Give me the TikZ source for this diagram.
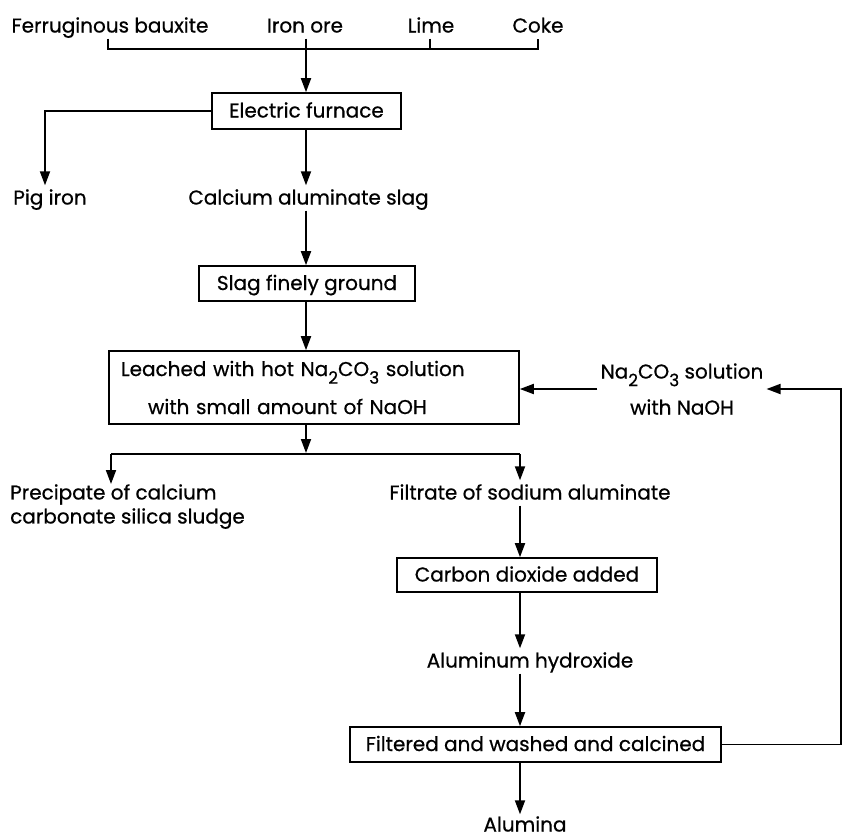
\documentclass[tikz,border=0pt]{standalone}
\usepackage{fontspec}
\setmainfont{Poppins}[FakeBold=0.6]
\usetikzlibrary{arrows.meta}
\newcommand{\sbsc}[1]{\raisebox{-0.7ex}{\fontsize{17}{17}\selectfont #1}}
\begin{document}
\begin{tikzpicture}[x=1pt,y=-1pt,
  every node/.style={font=\fontsize{20}{24}\selectfont},
  txt/.style={inner xsep=0pt, inner ysep=4pt, text height=15pt, text depth=2pt},
  box/.style={draw, line width=1.6pt, inner sep=0pt, text height=15pt, text depth=2pt},
  ln/.style={line width=1.8pt},
  arr/.style={ln, -{Triangle[length=14pt,width=10pt]}}]
\useasboundingbox (0,0) rectangle (844,839);
\fill[white] (0,0) rectangle (844,839);
% coordinates for axes
\coordinate (ax) at (306,0);
\coordinate (rx) at (520,0);
\coordinate (bl) at (108,49);
\coordinate (br) at (538,49);
\coordinate (lt) at (430,49);
\coordinate (sl) at (111,454);
\coordinate (sr) at (520,454);
\coordinate (px) at (45,0);
\coordinate (fbx) at (841,0);
% nodes
\node[txt] (fb) at (110,26) {Ferruginous bauxite};
\node[txt] (io) at (305,26) {Iron ore};
\node[txt] (lime) at (431,26) {Lime};
\node[txt] (coke) at (538,26) {Coke};
\node[box, minimum width=189pt, minimum height=36pt] (fur) at (306.5,111) {Electric furnace};
\node[txt] (pig) at (50,198) {Pig iron};
\node[txt] (cal) at (308.5,198) {Calcium aluminate slag};
\node[box, minimum width=216pt, minimum height=35pt] (slag) at (307,283.5) {Slag finely ground};
\node[draw, line width=1.6pt, inner xsep=12pt, inner ysep=0pt, text width=386pt, minimum height=73pt,
      align=left, font=\fontsize{20}{38}\selectfont] (leach) at (314,387.5)
  {Leached with hot Na\sbsc{2}CO\sbsc{3} solution\\\hspace*{27pt}with small amount of NaOH};
\node[inner xsep=3pt, inner ysep=0pt, align=center, font=\fontsize{20}{36}\selectfont] (na) at (682,389)
  {Na\sbsc{2}CO\sbsc{3} solution\\with NaOH};
\node[inner sep=0pt, anchor=north west, align=left] (prec) at (10,484)
  {Precipate of calcium\\carbonate silica sludge};
\node[txt] (fil) at (530,493) {Filtrate of sodium aluminate};
\node[box, minimum width=260pt, minimum height=34pt] (carb) at (527,575) {Carbon dioxide added};
\node[txt] (alh) at (530,661) {Aluminum hydroxide};
\node[box, minimum width=371pt, minimum height=35pt] (filt) at (535.5,744.5) {Filtered and washed and calcined};
\node[txt] (alu) at (525,825) {Alumina};
% connectors
\draw[ln] (fb.south -| bl) -- (bl) -- (br) -- (coke.south -| br);
\draw[ln] (lime.south -| lt) -- (lt);
\draw[arr] (io.south -| ax) -- (fur.north -| ax);
\draw[arr] (fur.west) -| (pig.north -| px);
\draw[arr] (fur.south -| ax) -- (cal.north -| ax);
\draw[arr] (cal.south -| ax) -- (slag.north -| ax);
\draw[arr] (slag.south -| ax) -- (leach.north -| ax);
\draw[arr] (leach.south -| ax) -- ([yshift=1pt]sl -| ax);
\draw[ln] (sl) -- (sr);
\draw[arr] (sl) -- (prec.north -| sl);
\draw[arr] (sr) -- (fil.north -| sr);
\draw[arr] (fil.south -| rx) -- (carb.north -| rx);
\draw[arr] (carb.south -| rx) -- (alh.north -| rx);
\draw[arr] (alh.south -| rx) -- (filt.north -| rx);
\draw[arr] (filt.south -| rx) -- ([yshift=-2pt]alu.north -| rx);
\draw[arr] (filt.east) -- (filt.east -| fbx) |- (na.east);
\draw[arr] (na.west) -- (na.west -| leach.east);
\end{tikzpicture}
\end{document}
